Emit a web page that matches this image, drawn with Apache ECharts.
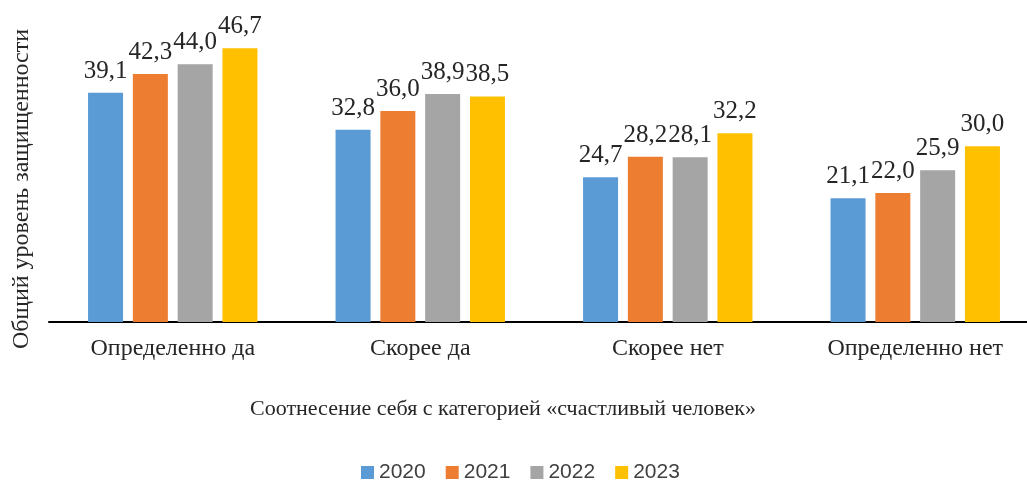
<!DOCTYPE html>
<html>
<head>
<meta charset="utf-8">
<script src="https://cdn.jsdelivr.net/npm/echarts@6/dist/echarts.min.js"></script>
<style>
  html, body { margin: 0; padding: 0; background: #fff; }
  #chart { width: 1027px; height: 480px; }
</style>
</head>
<body>
<div id="chart"></div>
<script>
'use strict';

var categories = ['Определенно да', 'Скорее да', 'Скорее нет', 'Определенно нет'];
var years = ['2020', '2021', '2022', '2023'];
var data2020 = [39.1, 32.8, 24.7, 21.1];
var data2021 = [42.3, 36.0, 28.2, 22.0];
var data2022 = [44.0, 38.9, 28.1, 25.9];
var data2023 = [46.7, 38.5, 32.2, 30.0];
var colors = ['#5B9BD5', '#ED7D31', '#A5A5A5', '#FFC000'];

var serif = '"Liberation Serif", "DejaVu Serif", serif';

function makeSeries(name, data, color) {
  return {
    name: name,
    type: 'bar',
    data: data,
    barWidth: 35,
    barGap: '28%',
    itemStyle: { color: color },
    label: {
      show: true,
      position: 'top',
      distance: 9,
      color: '#262626',
      fontFamily: serif,
      fontSize: 25,
      formatter: function (p) {
        return p.value.toFixed(1).replace('.', ',');
      }
    }
  };
}

var option = {
  animation: false,
  backgroundColor: '#fff',
  color: colors,
  legend: {
    data: years,
    left: 356,
    top: 457,
    itemWidth: 13,
    itemHeight: 13,
    itemGap: 20,
    icon: 'rect',
    textStyle: {
      fontFamily: '"Liberation Sans", Arial, sans-serif',
      fontSize: 21,
      color: '#404040'
    }
  },
  grid: {
    left: 49,
    top: 29,
    right: -12,
    height: 293,
    outerBoundsMode: 'none'
  },
  xAxis: {
    type: 'category',
    data: categories,
    axisLine: { show: true, lineStyle: { color: '#000', width: 2 } },
    axisTick: { show: false },
    axisLabel: {
      margin: 15,
      color: '#262626',
      fontFamily: serif,
      fontSize: 24
    },
    name: 'Соотнесение себя с категорией «счастливый человек»',
    nameLocation: 'middle',
    nameGap: 76,
    nameTextStyle: {
      color: '#262626',
      fontFamily: serif,
      fontSize: 22,
      padding: [0, 82, 0, 0]
    }
  },
  yAxis: {
    type: 'value',
    min: 0,
    max: 50,
    axisLine: { show: false },
    axisTick: { show: false },
    axisLabel: { show: false },
    splitLine: { show: false },
    name: 'Общий уровень защищенности',
    nameLocation: 'middle',
    nameRotate: 90,
    nameGap: 15,
    nameTextStyle: {
      color: '#262626',
      fontFamily: serif,
      fontSize: 24,
      padding: [0, 27, 0, 0]
    }
  },
  series: [
    makeSeries(years[0], data2020, colors[0]),
    makeSeries(years[1], data2021, colors[1]),
    makeSeries(years[2], data2022, colors[2]),
    makeSeries(years[3], data2023, colors[3])
  ]
};

var myChart = echarts.init(document.getElementById('chart'));
myChart.setOption(option);
</script>
</body>
</html>
